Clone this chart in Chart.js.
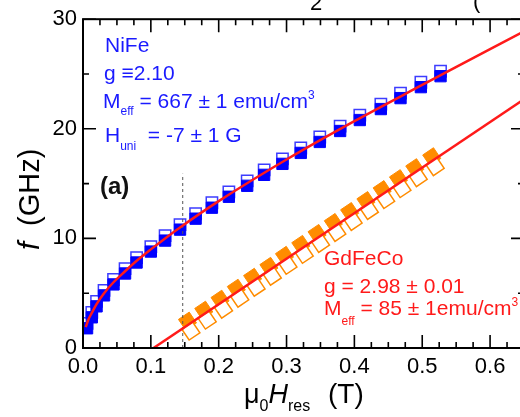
<!DOCTYPE html>
<html>
<head>
<meta charset="utf-8">
<title>FMR dispersion NiFe / GdFeCo</title>
<script src="https://cdn.jsdelivr.net/npm/chart.js@4"></script>
<style>
  html, body { margin: 0; padding: 0; overflow: hidden; background: #fff; }
  #wrap { position: relative; width: 545px; height: 417px; }
</style>
</head>
<body>
<div id="wrap"><canvas id="fmrChart"></canvas></div>
<script>
// NiFe: resonance field (T) at each drive frequency, two sweeps
var nifeField      = [0.006, 0.013, 0.020, 0.031, 0.045, 0.062, 0.079, 0.100, 0.121, 0.143, 0.166, 0.190,
                      0.215, 0.242, 0.267, 0.294, 0.321, 0.349, 0.379, 0.408, 0.439, 0.468, 0.498, 0.527];
var nifeOpenFreq   = [2.25, 3.25, 4.25, 5.25, 6.25, 7.25, 8.25, 9.25, 10.25, 11.25, 12.25, 13.25,
                      14.25, 15.25, 16.25, 17.25, 18.25, 19.25, 20.25, 21.25, 22.25, 23.25, 24.25, 25.25];
var nifeFilledFreq = [1.8, 2.8, 3.8, 4.8, 5.8, 6.8, 7.8, 8.8, 9.8, 10.8, 11.8, 12.8,
                      13.8, 14.8, 15.8, 16.8, 17.8, 18.8, 19.8, 20.8, 21.8, 22.8, 23.8, 24.8];

// GdFeCo: filled / open diamonds
var gdFilledField = [0.154, 0.178, 0.202, 0.226, 0.250, 0.274, 0.297, 0.321, 0.345, 0.369, 0.393, 0.417, 0.441, 0.465, 0.489, 0.514];
var gdFilledFreq  = [2.45, 3.45, 4.45, 5.45, 6.45, 7.45, 8.45, 9.45, 10.45, 11.45, 12.45, 13.45, 14.45, 15.45, 16.45, 17.45];
var gdOpenField   = [0.159, 0.183, 0.207, 0.231, 0.255, 0.279, 0.302, 0.326, 0.350, 0.374, 0.398, 0.422, 0.446, 0.470, 0.494, 0.519];
var gdOpenFreq    = [1.55, 2.55, 3.55, 4.55, 5.55, 6.55, 7.55, 8.55, 9.55, 10.55, 11.55, 12.55, 13.55, 14.55, 15.55, 16.55];

// Kittel fits
var nifeFitField = [0.004, 0.008, 0.013, 0.020, 0.031, 0.045, 0.062, 0.080, 0.100, 0.121, 0.143, 0.200, 0.300, 0.400, 0.500, 0.650];
var nifeFitFreq  = [1.9, 2.6, 3.2, 4.0, 5.0, 6.0, 7.0, 8.0, 9.0, 10.0, 11.0, 13.4, 17.2, 20.7, 24.0, 28.9];
var gdFitField = [0.104, 0.650];
var gdFitFreq  = [0, 22.7];

// vertical marker
var markerField = [0.147, 0.147];
var markerFreq  = [0, 15.9];

var xTicks = [0, 0.1, 0.2, 0.3, 0.4, 0.5, 0.6];
var yTicks = [0, 10, 20, 30];

var FONT = '"Liberation Sans", Arial, sans-serif';
var BLUE = '#1a1aff';
var RED = '#ff1a1a';
var ORANGE = '#ff8c00';

function pts(xs, ys) {
    return xs.map(function (x, i) { return { x: x, y: ys[i] }; });
}

// draws a row of text pieces (sub/superscripts via dy)
function drawRuns(ctx, x, y, runs) {
    runs.forEach(function (r) {
        ctx.font = r.font;
        ctx.fillStyle = r.color;
        if (r.at !== undefined) x = r.at;
        ctx.fillText(r.text, x, y + (r.dy || 0));
        x += ctx.measureText(r.text).width;
    });
}

// frame plus inward ticks on all four sides
var frameTicks = {
    id: 'frameTicks',
    afterDatasetsDraw: function (chart) {
        var ctx = chart.ctx, a = chart.chartArea;
        var xs = chart.scales.x, ys = chart.scales.y;
        ctx.save();
        ctx.strokeStyle = '#000';
        ctx.lineWidth = 1.6;
        ctx.beginPath();
        for (var k = 0; k * 0.025 <= xs.max + 1e-9; k++) {
            var px = xs.getPixelForValue(k * 0.025);
            var len = (k % 4 === 0) ? 13 : 6;
            ctx.moveTo(px, a.bottom); ctx.lineTo(px, a.bottom - len);
            ctx.moveTo(px, a.top); ctx.lineTo(px, a.top + len);
        }
        for (var j = 0; j * 5 <= ys.max + 1e-9; j++) {
            var py = ys.getPixelForValue(j * 5);
            var l2 = (j % 2 === 0) ? 13 : 6;
            ctx.moveTo(a.left, py); ctx.lineTo(a.left + l2, py);
            ctx.moveTo(a.right, py); ctx.lineTo(a.right - l2, py);
        }
        ctx.stroke();
        ctx.lineWidth = 2;
        ctx.strokeRect(a.left, a.top, a.right - a.left, a.bottom - a.top);
        ctx.restore();
    }
};

var labels = {
    id: 'labels',
    afterDraw: function (chart) {
        var ctx = chart.ctx;
        ctx.save();
        ctx.textAlign = 'left';
        ctx.textBaseline = 'alphabetic';
        var f21 = '21px ' + FONT, f12 = '12px ' + FONT;

        // NiFe parameters
        drawRuns(ctx, 105, 52, [{ text: 'NiFe', font: f21, color: BLUE }]);
        drawRuns(ctx, 104, 80, [{ text: 'g \u22612.10', font: f21, color: BLUE }]);
        drawRuns(ctx, 103, 108, [
            { text: 'M', font: f21, color: BLUE },
            { text: 'eff', font: f12, color: BLUE, dy: 7 },
            { text: ' = 667 \u00b1 1 emu/cm', font: f21, color: BLUE },
            { text: '3', font: f12, color: BLUE, dy: -9 }
        ]);
        drawRuns(ctx, 105, 142, [
            { text: 'H', font: f21, color: BLUE },
            { text: 'uni', font: f12, color: BLUE, dy: 8 },
            { text: '  = -7 \u00b1 1 G', font: f21, color: BLUE }
        ]);

        // GdFeCo parameters
        drawRuns(ctx, 324, 265, [{ text: 'GdFeCo', font: f21, color: RED }]);
        drawRuns(ctx, 324, 293, [{ text: 'g = 2.98 \u00b1 0.01', font: f21, color: RED }]);
        drawRuns(ctx, 324, 315, [
            { text: 'M', font: f21, color: RED },
            { text: 'eff', font: f12, color: RED, dy: 10 },
            { text: ' = 85 \u00b1 1emu/cm', font: f21, color: RED },
            { text: '3', font: f12, color: RED, dy: -9 }
        ]);

        // panel tag
        drawRuns(ctx, 100, 194, [{ text: '(a)', font: 'bold 24px ' + FONT, color: '#111' }]);

        // x axis title
        drawRuns(ctx, 244, 403, [
            { text: '\u03bc', font: '27px ' + FONT, color: '#000' },
            { text: '0', font: '16px ' + FONT, color: '#000', dy: 8 },
            { text: 'H', font: 'italic 27px ' + FONT, color: '#000' },
            { text: 'res', font: '16px ' + FONT, color: '#000', dy: 8 },
            { text: '(T)', font: '28px ' + FONT, color: '#000', at: 328 }
        ]);

        // y axis title, rotated
        ctx.save();
        ctx.translate(39, 250);
        ctx.rotate(-Math.PI / 2);
        drawRuns(ctx, 0, 0, [
            { text: 'f', font: 'italic 29px ' + FONT, color: '#000' },
            { text: '(GHz)', font: '29px ' + FONT, color: '#000', at: 24 }
        ]);
        ctx.restore();

        // clipped heading above the frame
        drawRuns(ctx, 310, 10, [{ text: '2', font: '22px ' + FONT, color: '#000' }]);
        drawRuns(ctx, 473, 8, [{ text: '(', font: '22px ' + FONT, color: '#000' }]);
        ctx.restore();
    }
};

var canvas = document.getElementById('fmrChart');

var chart = new Chart(canvas, {
    type: 'scatter',
    data: {
        datasets: [
            {
                label: 'NiFe fit',
                type: 'line',
                data: pts(nifeFitField, nifeFitFreq),
                borderColor: RED,
                borderWidth: 2.5,
                pointRadius: 0,
                cubicInterpolationMode: 'monotone',
                fill: false
            },
            {
                label: 'GdFeCo fit',
                type: 'line',
                data: pts(gdFitField, gdFitFreq),
                borderColor: RED,
                borderWidth: 2.5,
                pointRadius: 0,
                fill: false
            },
            {
                label: 'marker',
                type: 'line',
                data: pts(markerField, markerFreq),
                borderColor: '#555',
                borderWidth: 1,
                borderDash: [3, 3],
                pointRadius: 0,
                fill: false
            },
            {
                label: 'NiFe filled',
                data: pts(nifeField, nifeFilledFreq),
                pointStyle: 'rect',
                pointRadius: 8,
                backgroundColor: '#0000ff',
                borderColor: '#0000ff',
                borderWidth: 1
            },
            {
                label: 'NiFe open',
                data: pts(nifeField, nifeOpenFreq),
                pointStyle: 'rect',
                pointRadius: 8,
                backgroundColor: '#ffffff',
                borderColor: '#3d3dff',
                borderWidth: 1.5
            },
            {
                // tilted squares
                label: 'GdFeCo open',
                data: pts(gdOpenField, gdOpenFreq),
                pointStyle: 'rectRot',
                pointRotation: 11,
                pointRadius: 9.2,
                backgroundColor: '#ffffff',
                borderColor: ORANGE,
                borderWidth: 1.5
            },
            {
                label: 'GdFeCo filled',
                data: pts(gdFilledField, gdFilledFreq),
                pointStyle: 'rectRot',
                pointRotation: 11,
                pointRadius: 9.2,
                backgroundColor: ORANGE,
                borderColor: ORANGE,
                borderWidth: 1
            }
        ]
    },
    options: {
        responsive: true,
        maintainAspectRatio: false,
        animation: false,
        events: [],
        layout: { padding: { top: 18, right: 21, left: 0, bottom: 0 } },
        plugins: {
            legend: { display: false },
            tooltip: { enabled: false }
        },
        scales: {
            x: {
                type: 'linear',
                min: 0,
                max: 0.65,
                afterFit: function (s) { s.height = 69; },
                afterBuildTicks: function (s) { s.ticks = xTicks.map(function (v) { return { value: v }; }); },
                grid: { display: false, drawTicks: false },
                border: { display: false },
                ticks: {
                    padding: 6,
                    color: '#000',
                    autoSkip: false,
                    maxRotation: 0,
                    font: { family: FONT, size: 22 },
                    callback: function (v) { return v.toFixed(1); }
                }
            },
            y: {
                type: 'linear',
                min: 0,
                max: 30,
                afterFit: function (s) { s.width = 83; },
                afterBuildTicks: function (s) { s.ticks = yTicks.map(function (v) { return { value: v }; }); },
                grid: { display: false, drawTicks: false },
                border: { display: false },
                ticks: {
                    padding: 6,
                    color: '#000',
                    font: { family: FONT, size: 22 }
                }
            }
        }
    },
    plugins: [frameTicks, labels]
});
</script>
</body>
</html>
